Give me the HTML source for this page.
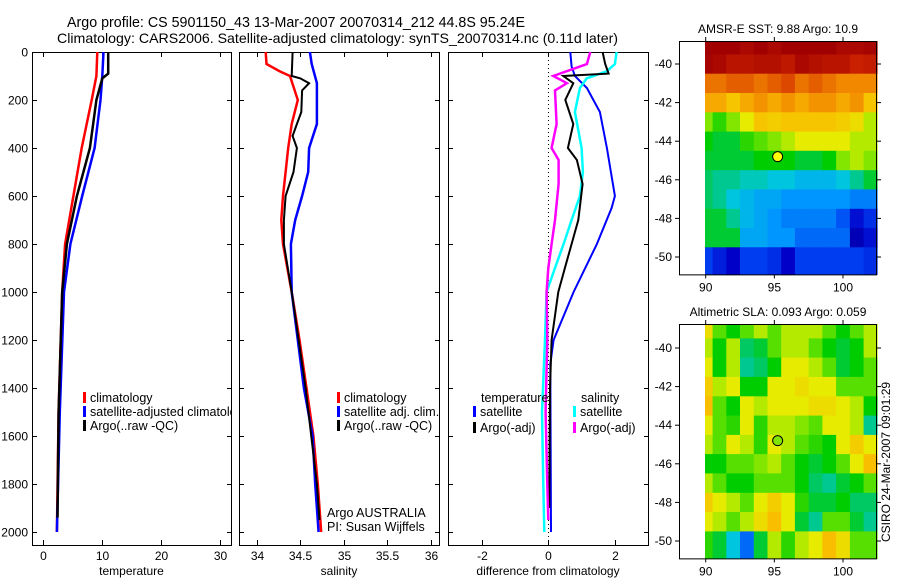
<!DOCTYPE html>
<html><head><meta charset="utf-8"><style>
html,body{margin:0;padding:0;background:#fff;}
svg{display:block;font-family:"Liberation Sans",sans-serif;}
text{fill:#000;}
</style></head><body>
<svg id="fig" width="900" height="580" viewBox="0 0 900 580" xmlns="http://www.w3.org/2000/svg">
<defs><clipPath id="c1"><rect x="32" y="52" width="199" height="493"/></clipPath></defs>
<text x="67" y="27" font-size="14.5" textLength="458" lengthAdjust="spacingAndGlyphs">Argo profile: CS 5901150_43 13-Mar-2007 20070314_212 44.8S 95.24E</text>
<text x="57" y="43" font-size="14" textLength="561" lengthAdjust="spacingAndGlyphs">Climatology: CARS2006. Satellite-adjusted climatology: synTS_20070314.nc (0.11d later)</text>
<g id="g1"></g>
<g id="g2"></g>
<g id="g3"></g>
<g id="m1"></g>
<g id="m2"></g>
<text transform="translate(890,462) rotate(-90)" font-size="12" text-anchor="middle">CSIRO 24-Mar-2007 09:01:29</text>
</svg>
<script>
// ---- profile data ----
const tClimD=[0,100,200,400,600,800,1000,1500,2000];
const tClimV=[9.15,9.0,8.2,6.5,5.1,3.7,3.2,2.6,2.3];
const tSatD=[0,100,200,400,600,800,1000,1500,2000];
const tSatV=[10.2,10.0,9.7,8.7,6.6,4.6,3.5,2.8,2.3];
const tArgoD=[0,90,110,200,400,600,800,1000,1500,1940];
const tArgoV=[11,11,10,9,7.9,5.7,4.0,3.2,2.6,2.4];

const sClimD=[0,50,80,100,200,300,400,600,700,800,1000,1200,1400,1600,1800,2000];
const sClimV=[34.10,34.11,34.26,34.38,34.47,34.40,34.36,34.30,34.28,34.30,34.40,34.49,34.57,34.65,34.70,34.74];
const sSatD=[0,50,130,300,400,500,600,700,800,1000,1400,1600,1800,2000];
const sSatV=[34.61,34.63,34.69,34.69,34.60,34.59,34.52,34.44,34.39,34.40,34.54,34.64,34.67,34.71];
const sArgoD=[0,100,110,130,160,250,300,350,400,500,600,700,800,1000,1400,1800,1950];
const sArgoV=[34.41,34.40,34.50,34.60,34.52,34.51,34.46,34.41,34.46,34.42,34.33,34.31,34.31,34.40,34.56,34.69,34.72];

const dTSatD=[0,60,100,150,250,400,600,650,800,1000,1200,1300,2000];
const dTSatV=[0.66,0.7,0.8,1.16,1.55,1.76,2.0,1.9,1.46,0.76,0.16,0.06,0.08];
const dTArgoD=[0,50,90,100,130,200,300,400,450,550,700,800,900,1000,1200,1400,1900];
const dTArgoV=[1.63,1.71,1.81,0.45,0.75,0.51,0.75,0.59,0.86,1.03,0.9,0.7,0.5,0.30,0.1,0.05,0.03];
const dSSatD=[0,50,80,110,150,250,400,500,600,700,800,900,1000,1200,1500,1800,2000];
const dSSatV=[2.05,2.0,1.76,1.15,0.95,0.8,1.0,1.04,0.95,0.7,0.46,0.2,-0.05,-0.1,-0.19,-0.15,-0.12];
const dSArgoD=[0,50,100,130,160,300,400,450,550,700,800,900,1000,1200,1500,1800,1950];
const dSArgoV=[1.26,1.16,0.15,0.56,0.2,0.25,0.1,0.31,0.31,0.2,0.1,0,-0.05,-0.03,-0.08,-0.03,0.0];

const depthTicks=[0,200,400,600,800,1000,1200,1400,1600,1800,2000];
const tTicks=[0,10,20,30];
const sTicks=[34,34.5,35,35.5,36];
const dTicks=[-2,0,2];

// ---- map data ----
const mapLons=[90,91,92,93,94,95,96,97,98,99,100,101,102];
const mapLats=[-39,-40,-41,-42,-43,-44,-45,-46,-47,-48,-49,-50];
const sstGrid=[
[15,15,15,14.8,15,14.8,15,15,15,15,14.8,14.8,14.9],
[14.9,14.8,14.5,14.5,14.6,14.6,14.4,14.8,14.6,14.5,14.5,14.2,14.3],
[13.3,13.3,13.5,13.5,13.3,13.5,13.7,13.3,13.5,13.3,13.1,13.1,13.1],
[12.8,12.8,12.5,12.8,13,12.8,13,12.8,13,13,12.8,13,12.5],
[11.6,11.2,11.6,12,12.5,12.4,12.5,12.5,12.5,12.5,12.4,12.2,11.8],
[11,10.8,10.8,11.2,11.4,11.6,11.8,12,12,12,12,11.8,11.8],
[10.8,10.8,10.8,10.8,11,11,11,10.8,10.8,11,11.6,11.8,11.6],
[10.6,10.4,10.4,10.2,10.2,10,10,9.8,9.8,9.8,10,10.4,10.8],
[10.6,10.4,10,9.8,9.6,9.6,9.4,9.4,9.4,9.4,9.4,9.2,9.2],
[10.8,10.8,10.4,9.8,9.6,9.4,9.2,9.2,9.2,9.2,8.8,8.0,8.4],
[10.8,10.8,10.8,9.6,9.6,9.4,9.4,9,9,9,9,7.6,8],
[8.6,8.2,7.8,8.6,8.6,8.4,7.8,8.6,8.6,8.6,8.6,8.6,8.4]];
const slaGrid=[
[0.12,0.04,0.0,0.04,0.08,0.04,0.08,0.08,0.08,0.04,0.0,0.04,0.08],
[0.08,0.0,0.08,-0.04,-0.02,0.04,0.08,0.08,0.04,0.0,-0.02,0.0,0.08],
[0.1,0.0,0.08,-0.06,-0.04,0.0,0.1,0.1,0.08,0.04,-0.02,0.0,0.04],
[0.14,0.08,0.1,0.0,0.0,0.1,0.1,0.12,0.1,0.1,0.04,0.04,0.04],
[0.16,0.04,0.0,0.1,0.08,0.1,0.1,0.1,0.12,0.12,0.1,0.08,0.0],
[0.1,0.04,0.02,0.1,0.02,0.08,0.08,0.06,0.04,0.1,0.1,0.08,-0.06],
[0.08,0.04,0.1,0.08,0.02,0.1,0.08,0.04,0.02,0.0,0.1,0.14,0.1],
[0.0,0.0,0.04,0.04,0.06,0.08,0.04,0.0,-0.02,0.0,0.04,0.1,0.16],
[0.08,0.04,0.0,0.0,0.04,0.04,0.04,0.0,-0.04,-0.06,-0.02,0.0,0.04],
[0.14,0.1,0.08,0.04,0.1,0.14,0.1,0.02,-0.02,-0.02,0.0,-0.04,-0.04],
[0.1,0.08,0.04,0.08,0.12,0.16,0.1,-0.02,-0.06,0.04,0.04,-0.02,-0.06],
[0.02,-0.02,-0.1,-0.2,-0.02,0.08,0.02,0.08,0.1,0.16,0.12,0.04,0.04]];
const lonTicks=[90,95,100];
const latTicks=[-40,-42,-44,-46,-48,-50];
const argoPos=[95.24,-44.8];

const NS='http://www.w3.org/2000/svg';
function mk(parent,tag,attrs,txt){const e=document.createElementNS(NS,tag);for(const k in attrs)e.setAttribute(k,attrs[k]);if(txt!==undefined)e.textContent=txt;parent.appendChild(e);return e;}

const yTop=52, yPer=0.24;
function yD(d){return yTop+d*yPer;}
const pBot=545;

function panel(g,x0,x1,xf,ticks,fmt,label,showY){
  const fr=mk(g,'rect',{x:x0+.5,y:yTop+.5,width:x1-x0,height:pBot-yTop,fill:'none',stroke:'#000','stroke-width':1});
  
  
  ticks.forEach(t=>{const x=Math.round(xf(t))+.5;
    mk(g,'line',{x1:x,x2:x,y1:pBot,y2:pBot-5,stroke:'#000'});
    mk(g,'line',{x1:x,x2:x,y1:yTop,y2:yTop+5,stroke:'#000'});
    const tx=mk(g,'text',{x:x,y:pBot+15,'font-size':12,'text-anchor':'middle'},fmt(t));
    
    
  });
  depthTicks.forEach(d=>{const y=Math.round(yD(d))+.5;
    mk(g,'line',{x1:x0,x2:x0+5,y1:y,y2:y,stroke:'#000'});
    mk(g,'line',{x1:x1-4,x2:x1,y1:y,y2:y,stroke:'#000'});
    if(showY){const tx=mk(g,'text',{x:28,y:y+4,'font-size':12,'text-anchor':'end'},String(d));
      
      }
  });
  const xl=mk(g,'text',{x:(x0+x1)/2,y:575,'font-size':12,'text-anchor':'middle'},label);
  
  
}
function line(g,D,V,xf,color,w,name){
  const pts=D.map((d,i)=>xf(V[i]).toFixed(1)+','+yD(d).toFixed(1)).join(' ');
  const p=mk(g,'polyline',{points:pts,fill:'none',stroke:color,'stroke-width':w,'stroke-linejoin':'miter'});
  
  
}
function legend(g,x,y,color,txt,name,clip){
  if(color) mk(g,'rect',{x:x,y:y-10,width:3,height:11,fill:color});
  const a={x:x+7,y:y,'font-size':12.5};
  if(clip) a['clip-path']='url(#c1)';
  const t=mk(g,'text',a,txt);
  
  
}
const g1=document.getElementById('g1');
const xT=v=>43.3+v*5.9;
panel(g1,32,231,xT,tTicks,String,'temperature',true);
line(g1,tClimD,tClimV,xT,'#f00',2.5,'temp-climatology-line');
line(g1,tSatD,tSatV,xT,'#00f',2.5,'temp-satellite-line');
line(g1,tArgoD,tArgoV,xT,'#000',2.5,'temp-argo-line');
legend(g1,83,402,'#f00','climatology','legend-climatology');
legend(g1,83,416,'#00f','satellite-adjusted climatology','legend-satellite',true);
legend(g1,83,430,'#000','Argo(..raw -QC)','legend-argo');
const g2=document.getElementById('g2');
const xS=v=>257+(v-34)*86.8;
panel(g2,239,439,xS,sTicks,String,'salinity',false);
line(g2,sClimD,sClimV,xS,'#f00',2.5,'sal-climatology-line');
line(g2,sSatD,sSatV,xS,'#00f',2.5,'sal-satellite-line');
line(g2,sArgoD,sArgoV,xS,'#000',2,'sal-argo-line');
legend(g2,337,402,'#f00','climatology','legend-climatology');
legend(g2,337,416,'#00f','satellite adj. clim.','legend-satellite');
legend(g2,337,430,'#000','Argo(..raw -QC)','legend-argo');
legend(g2,320,517,null,'Argo AUSTRALIA','argo-australia-label');
legend(g2,320,531,null,'PI: Susan Wijffels','pi-label');
const g3=document.getElementById('g3');
const xDf=v=>548.3+v*33.3;
panel(g3,448,648,xDf,dTicks,String,'difference from climatology',false);
mk(g3,'line',{x1:548.5,x2:548.5,y1:yTop,y2:pBot,stroke:'#000','stroke-dasharray':'1,3'});
line(g3,dTSatD,dTSatV,xDf,'#00f',2,'diff-temp-satellite-line');
line(g3,dSSatD,dSSatV,xDf,'#0ff',2.5,'diff-sal-satellite-line');
line(g3,dTArgoD,dTArgoV,xDf,'#000',2,'diff-temp-argo-line');
line(g3,dSArgoD,dSArgoV,xDf,'#f0f',2.5,'diff-sal-argo-line');
legend(g3,474,402,null,'temperature','legend-temperature-header');
legend(g3,473,416,'#00f','satellite','legend-temp-satellite');
legend(g3,473,432,'#000','Argo(-adj)','legend-temp-argo');
legend(g3,574,402,null,'salinity','legend-salinity-header');
legend(g3,573,416,'#0ff','satellite','legend-sal-satellite');
legend(g3,573,432,'#f0f','Argo(-adj)','legend-sal-argo');

const CM=[[0,0,0,130],[0.1,0,0,200],[0.2,0,60,240],[0.3,0,150,255],[0.38,0,200,220],[0.44,0,200,120],[0.5,0,205,0],[0.57,120,230,0],[0.625,230,235,0],[0.7,250,190,0],[0.77,240,130,0],[0.875,210,40,0],[1,160,0,0]];
function cmap(t){t=Math.max(0,Math.min(1,t));
  for(let i=1;i<CM.length;i++){if(t<=CM[i][0]){const a=CM[i-1],b=CM[i],f=(t-a[0])/(b[0]-a[0]);
    return 'rgb('+[1,2,3].map(k=>Math.round(a[k]+(b[k]-a[k])*f)).join(',')+')';}}
  return 'rgb(160,0,0)';}
function map(g,top,lat40y,lat50y,grid,cmin,cmax,title,name){
  const lonX=l=>705.7+(l-90)*13.73;
  const latY=l=>lat40y+(-40-l)*(lat50y-lat40y)/10;
  const bot=latY(-50.9);
  const tt=mk(g,'text',{x:778,y:top-8,'font-size':12,'text-anchor':'middle'},title);
  
  
  const x0=705, x1=877;
  grid.forEach((row,i)=>row.forEach((v,j)=>{
    const lat=mapLats[i], lon=mapLons[j];
    const ya=i===0?top:latY(lat+0.5), yb=i===grid.length-1?bot:latY(lat-0.5);
    const xa=j===0?x0:lonX(lon-0.5), xb=j===row.length-1?x1:lonX(lon+0.5);
    const r=mk(g,'rect',{x:xa.toFixed(1),y:ya.toFixed(1),width:(xb-xa+0.6).toFixed(1),height:(yb-ya+0.6).toFixed(1),fill:cmap((v-cmin)/(cmax-cmin))});
    
    
  }));
  mk(g,'rect',{x:679.5,y:top+.5,width:197,height:bot-top,fill:'none',stroke:'#000'});
  lonTicks.forEach(l=>{const x=lonX(l);
    mk(g,'line',{x1:x,x2:x,y1:top,y2:top-4,stroke:'#000'});
    mk(g,'line',{x1:x,x2:x,y1:bot,y2:bot+4,stroke:'#000'});
    const t=mk(g,'text',{x:x,y:bot+17,'font-size':12,'text-anchor':'middle'},String(l));
    
    });
  latTicks.forEach(l=>{const y=latY(l);
    mk(g,'line',{x1:679,x2:675,y1:y,y2:y,stroke:'#000'});
    mk(g,'line',{x1:877,x2:881,y1:y,y2:y,stroke:'#000'});
    const t=mk(g,'text',{x:672,y:y+4,'font-size':12,'text-anchor':'end'},String(l));
    
    });
  return {lonX,latY};
}
const m1=document.getElementById('m1');
const a1=map(m1,41,64,257,sstGrid,7,15,'AMSR-E SST: 9.88 Argo: 10.9','sst');
const d1=mk(m1,'circle',{cx:a1.lonX(argoPos[0]),cy:a1.latY(argoPos[1]),r:5,fill:'#ff0',stroke:'#000'});


const m2=document.getElementById('m2');
const a2=map(m2,324,348,541,slaGrid,-0.4,0.4,'Altimetric SLA: 0.093 Argo: 0.059','sla');
const d2=mk(m2,'circle',{cx:a2.lonX(argoPos[0]),cy:a2.latY(argoPos[1]),r:5,fill:cmap((0.059+0.4)/0.8),stroke:'#000'});


</script>
</body></html>
